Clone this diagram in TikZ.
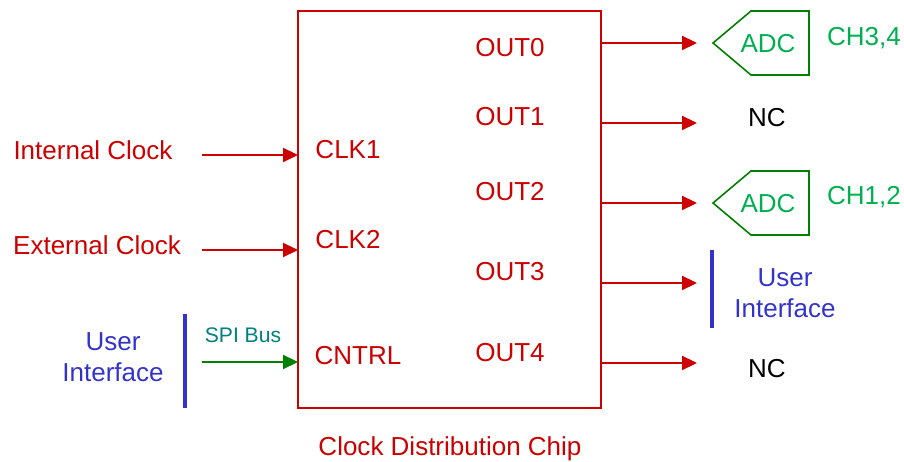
\documentclass[tikz,border=0pt]{standalone}
\usepackage{fontspec}
\setmainfont{Liberation Sans}
\usetikzlibrary{arrows.meta}
\definecolor{chipred}{RGB}{204,0,0}
\definecolor{adcgreen}{RGB}{0,128,0}
\definecolor{chgreen}{RGB}{0,176,80}
\definecolor{uiblue}{RGB}{51,51,204}
\definecolor{spiteal}{RGB}{0,128,128}
\begin{document}
\begin{tikzpicture}[x=0.02cm,y=-0.02cm,>={Triangle[length=8.5pt,width=8pt]},font=\fontsize{14.8}{17.6}\selectfont]
\useasboundingbox (0,0) rectangle (904,462);
% chip
\draw[chipred,line width=0.9pt] (298,11) rectangle (601,408);
\node[chipred](A) at (450,449){Clock Distribution Chip};
\node[chipred](A1) at (348,150){CLK1};
\node[chipred](A2) at (348,240){CLK2};
\node[chipred](A3) at (358,356){CNTRL};
\node[chipred](B0) at (510,48){OUT0};
\node[chipred](B1) at (510,117){OUT1};
\node[chipred](B2) at (510,192){OUT2};
\node[chipred](B3) at (510,272){OUT3};
\node[chipred](B4) at (510,353){OUT4};

% inputs
\node[chipred](C1) at (93,150){Internal Clock};
\node[chipred](C2) at (97,245){External Clock};
\coordinate(P1) at (202,155);
\coordinate(Q1) at (298,155);
\coordinate(P2) at (202,250);
\coordinate(Q2) at (298,250);
\coordinate(P3) at (202,362);
\coordinate(Q3) at (298,362);
\draw[->,chipred,line width=1pt](P1)--(Q1);
\draw[->,chipred,line width=1pt](P2)--(Q2);
\draw[->,adcgreen,line width=1pt](P3)--(Q3);
\node[spiteal,font=\fontsize{12}{14}\selectfont](C3) at (243,335){SPI Bus};
\draw[uiblue,line width=2pt] (185,314)--(185,408);
\node[uiblue,align=center](C4) at (113,357){User\\Interface};

% outputs
\coordinate(R0) at (601,43);
\coordinate(S0) at (697,43);
\coordinate(R1) at (601,123);
\coordinate(S1) at (697,123);
\coordinate(R2) at (601,203);
\coordinate(S2) at (697,203);
\coordinate(R3) at (601,283);
\coordinate(S3) at (697,283);
\coordinate(R4) at (601,363);
\coordinate(S4) at (697,363);
\draw[->,chipred,line width=1pt](R0)--(S0);
\draw[->,chipred,line width=1pt](R1)--(S1);
\draw[->,chipred,line width=1pt](R2)--(S2);
\draw[->,chipred,line width=1pt](R3)--(S3);
\draw[->,chipred,line width=1pt](R4)--(S4);

\draw[adcgreen,line width=0.9pt] (713,43)--(751,11)--(809,11)--(809,75)--(751,75)--cycle;
\node[chgreen](D1) at (768,44){ADC};
\node[chgreen](E1) at (864,38){CH3,4};
\draw[adcgreen,line width=0.9pt] (713,203)--(751,171)--(809,171)--(809,235)--(751,235)--cycle;
\node[chgreen](D2) at (768,204){ADC};
\node[chgreen](E2) at (864,197){CH1,2};

\node(F1) at (767,118){NC};
\node(F2) at (767,369){NC};
\draw[uiblue,line width=2pt] (712,250)--(712,328);
\node[uiblue,align=center](G1) at (785,293){User\\Interface};
\end{tikzpicture}
\end{document}
